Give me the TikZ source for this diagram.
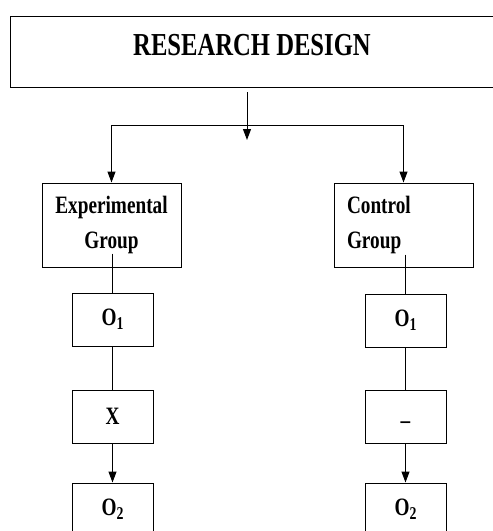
\documentclass[tikz,border=0pt]{standalone}
\usepackage{fontspec}
\setmainfont{Liberation Serif}[FakeStretch=0.77]
\usetikzlibrary{arrows.meta}
\newcommand\obsidx[1]{\raisebox{-4pt}{\fontsize{18}{18}\selectfont #1}}

\begin{document}
\begin{tikzpicture}[x=1pt, y=-1pt,
    box/.style={draw, line width=1pt, inner sep=0pt},
    groupbox/.style={box, minimum width=139pt, minimum height=84pt, font=\bfseries\fontsize{25}{35}\selectfont},
    obsbox/.style={box, minimum width=81pt, minimum height=53pt, font=\bfseries\fontsize{25}{28}\selectfont},
    link/.style={line width=1pt},
    arr/.style={link, -{Triangle[width=8pt,length=11pt]}}]
    \useasboundingbox (0,0) rectangle (493,531);
    \node[box, anchor=north west, minimum width=500pt, minimum height=71pt] (design) at (10,16) {};
    \node[font=\bfseries\fontsize{32}{36}\selectfont] (title) at (252,45) {RESEARCH DESIGN};
    \coordinate (start) at (247,92);
    \coordinate (fork) at (247,125);
    \coordinate (tip) at (247,140);
    \node[groupbox, align=center] (exp) at (111.5,225) {Experimental\\Group};
    \node[groupbox, align=left, text width=113pt] (ctrl) at (403.5,225) {Control\\Group};
    \node[obsbox] (eo1) at (112.5,319.5) {O\obsidx{1}};
    \node[obsbox] (ex) at (112.5,416.5) {X};
    \node[obsbox] (eo2) at (112.5,509.5) {O\obsidx{2}};
    \node[obsbox] (co1) at (405.5,320.5) {O\obsidx{1}};
    \node[obsbox] (cx) at (405.5,416.5) {\raisebox{-12pt}[0pt][0pt]{--}};
    \node[obsbox] (co2) at (405.5,509.5) {O\obsidx{2}};
    \draw[arr] (start) -- (tip);
    \draw[arr] (fork) -| (exp.north);
    \draw[arr] (fork) -| (ctrl.north);
    \draw[link] ([yshift=14pt]eo1.north |- exp.south) -- (eo1.north); % from under the text
    \draw[link] (eo1) -- (ex);
    \draw[arr] (ex) -- (eo2);
    \draw[link] ([yshift=13pt]co1.north |- ctrl.south) -- (co1.north);
    \draw[link] (co1) -- (cx);
    \draw[arr] (cx) -- (co2);
\end{tikzpicture}
\end{document}
